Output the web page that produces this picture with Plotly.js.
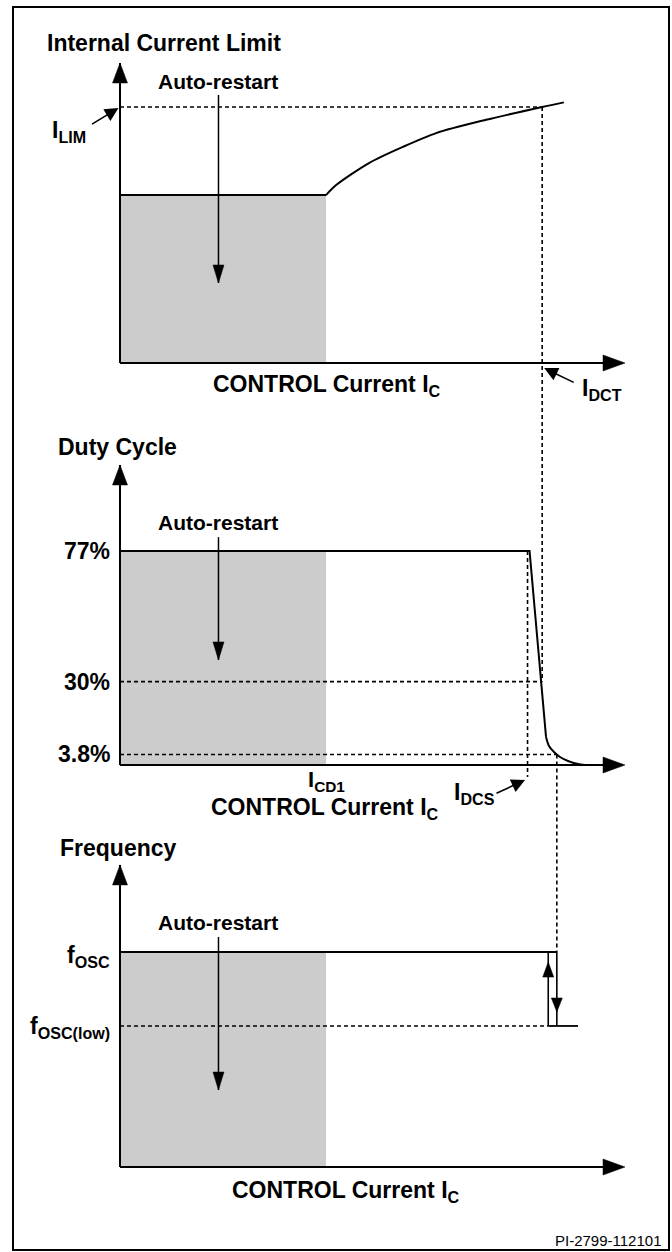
<!DOCTYPE html>
<html>
<head>
<meta charset="utf-8">
<script src="https://cdn.plot.ly/plotly-3.0.1.min.js"></script>
<style>
  html, body { margin: 0; padding: 0; background: #ffffff; }
  #chart { width: 672px; height: 1252px; }
</style>
</head>
<body>
<div id="chart"></div>
<script>
// ===================== DATA (schematic values) =====================
// Shared CONTROL-current axis (arbitrary units, 0 = origin, 100 = arrow tip)
const xAxisEnd = 100;
const I_CD1 = 40.8;          // end of auto-restart region
const I_DCS = 80.7;          // duty cycle starts to fall
const I_DCT = 83.6;          // current limit reaches I_LIM
const X_DUTY_MIN = 86.5;     // duty cycle reaches 3.8 %
const X_FREQ_UP = 84.8;      // frequency returns to fOSC
const X_FREQ_LOW_END = 90.7;

// Panel 1 : internal current limit (normalised to I_LIM)
const I_LIM = 1.0;
const ilimPlateau = 0.656;
const ilimRiseX = [40.8, 42.8, 49.3, 56.0, 62.6, 72.5, 83.6, 87.9];
const ilimRiseY = [0.656, 0.695, 0.781, 0.844, 0.898, 0.950, 1.0, 1.018];
const ilimAxisTop = 1.172;

// Panel 2 : duty cycle (%)
const dutyLevels = [77, 30, 3.8];
const dutyLabels = ['77%', '30%', '3.8%'];
const dutyFlatX = [0, 81.1, 84.36];
const dutyFlatY = [77, 77, 10.1];
const dutyTailX = [84.36, 84.95, 85.94, 87.13, 88.71, 90.69, 92.08];
const dutyTailY = [10.1, 6.84, 4.68, 2.88, 1.44, 0.36, 0];
const dutyAxisTop = 107.95;

// Panel 3 : frequency (normalised to fOSC)
const F_OSC = 1.0;
const F_OSC_LOW = 0.656;
const freqAxisTop = 1.405;

// Text
const yTitles = ['Internal Current Limit', 'Duty Cycle', 'Frequency'];
const xTitle = 'CONTROL Current I<sub>C</sub>';
const autoText = 'Auto-restart';
const docId = 'PI-2799-112101';

// ===================== LAYOUT GEOMETRY =====================
const W = 672, H = 1252;
const X0PX = 120, XPPU = 5.05;            // pixel of x=0, pixels per x unit
const panels = [
  {band: [0, 420],    y0px: 363,  ppu: 256},
  {band: [420, 828],  y0px: 765,  ppu: 214 / 77},
  {band: [828, 1252], y0px: 1167, ppu: 215}
];
const xr = [-X0PX / XPPU, (W - X0PX) / XPPU];
const paperY = (p, v) => 1 - (panels[p].y0px - v * panels[p].ppu) / H;

const FONT = 'Liberation Sans, Arial, Helvetica, sans-serif';
const GRAY = '#cccccc';
const DASH = '4px,3px';
const DASHW = 1.6;

const axN = ['', '2', '3'];
const traces = [];
const shapes = [];
const annotations = [];

function line(p, x, y, opts) {
  traces.push(Object.assign({
    type: 'scatter', mode: 'lines', x: x, y: y,
    xaxis: 'x' + axN[p], yaxis: 'y' + axN[p], hoverinfo: 'skip',
    line: {color: '#000', width: 2}
  }, opts || {}));
}
function head(p, x, y, path) {
  shapes.push({type: 'path', xref: 'x' + axN[p], yref: 'y' + axN[p],
    xsizemode: 'pixel', ysizemode: 'pixel', xanchor: x, yanchor: y,
    path: path, fillcolor: '#000', line: {color: '#000', width: 0.5}, layer: 'above'});
}
function text(p, x, y, t, size, xanchor, bold, extra) {
  annotations.push(Object.assign({
    xref: 'x' + axN[p], yref: 'y' + axN[p], x: x, y: y,
    text: bold === false ? t : '<b>' + t + '</b>', showarrow: false,
    xanchor: xanchor || 'center', yanchor: 'middle', borderpad: 0, borderwidth: 0,
    font: {family: FONT, size: size, color: '#000'}
  }, extra || {}));
}
function pointer(p, x, y, ax, ay) {
  annotations.push({xref: 'x' + axN[p], yref: 'y' + axN[p], x: x, y: y, ax: ax, ay: ay,
    text: '', showarrow: true, arrowhead: 2, arrowsize: 1.7, arrowwidth: 1.6, arrowcolor: '#000',
    standoff: 0, startstandoff: 0});
}
const UP = (hw, len) => `M0,0 L${-hw},${-len} L${hw},${-len} Z`;
const DOWN = (hw, len) => `M0,0 L${-hw},${len} L${hw},${len} Z`;
const RIGHT = (hw, len) => `M0,0 L${-len},${hw} L${-len},${-hw} Z`;

// ----- common axes, gray auto-restart regions, auto-restart arrows -----
const axisTops = [ilimAxisTop, dutyAxisTop, freqAxisTop];
const grayTops = [ilimPlateau, dutyLevels[0], F_OSC];
const autoTextY = [1.0977, 87.4, 1.135];
const autoStartY = [1.047, 82.0, 1.070];
const autoTipY = [0.3125, 37.8, 0.358];
const autoX = 19.5;
const titleY = [1.25, 114.4, 1.4837];
const titleX = [-14.46, -12.28, -11.88];
const xTitleX = [41.0, 40.6, 44.75];
const xTitleY = [-0.086, -15.8, -0.112];

for (let p = 0; p < 3; p++) {
  line(p, [0, I_CD1], [grayTops[p], grayTops[p]],
       {fill: 'tozeroy', fillcolor: GRAY, line: {width: 0, color: GRAY}});
}

// Panel 1 lines
line(0, [0, I_DCT], [I_LIM, I_LIM], {line: {color: '#000', width: DASHW, dash: DASH}});
line(0, [0, I_CD1], [ilimPlateau, ilimPlateau]);
line(0, ilimRiseX, ilimRiseY, {line: {color: '#000', width: 2, shape: 'spline', smoothing: 0.8}});

// Panel 2 lines
line(1, [0, I_DCT], [dutyLevels[1], dutyLevels[1]], {line: {color: '#000', width: DASHW, dash: DASH}});
line(1, [0, X_DUTY_MIN], [dutyLevels[2], dutyLevels[2]], {line: {color: '#000', width: DASHW, dash: DASH}});
line(1, [I_DCS, I_DCS], [dutyLevels[0], -4.3], {line: {color: '#000', width: DASHW, dash: DASH}});
line(1, dutyFlatX, dutyFlatY);
line(1, dutyTailX, dutyTailY, {line: {color: '#000', width: 2, shape: 'spline', smoothing: 0.8}});

// Panel 3 lines
line(2, [0, X_FREQ_UP], [F_OSC_LOW, F_OSC_LOW], {line: {color: '#000', width: DASHW, dash: DASH}});
line(2, [0, X_DUTY_MIN], [F_OSC, F_OSC]);
line(2, [X_DUTY_MIN, X_DUTY_MIN], [F_OSC, F_OSC_LOW], {line: {color: '#000', width: 1.6}});
line(2, [X_FREQ_UP, X_FREQ_UP], [F_OSC_LOW, F_OSC], {line: {color: '#000', width: 1.6}});
line(2, [X_FREQ_UP, X_FREQ_LOW_END], [F_OSC_LOW, F_OSC_LOW], {line: {color: '#000', width: 1.8}});
head(2, X_FREQ_UP, 0.953, UP(5.5, 15));
head(2, X_DUTY_MIN, 0.721, DOWN(5.5, 14));

for (let p = 0; p < 3; p++) {
  // axes with arrowheads
  line(p, [0, xAxisEnd - 0.5], [0, 0], {line: {color: '#000', width: 2}});
  line(p, [0, 0], [0, axisTops[p]], {line: {color: '#000', width: 2}});
  head(p, xAxisEnd, 0, RIGHT(8, 22));
  head(p, 0, axisTops[p], UP(7.5, 20));
  // auto-restart arrows
  line(p, [autoX, autoX], [autoStartY[p], autoTipY[p]], {line: {color: '#000', width: 1.5}});
  head(p, autoX, autoTipY[p], DOWN(5.5, 18));
  text(p, autoX, autoTextY[p], autoText, 21);
  text(p, titleX[p], titleY[p], yTitles[p], 23, 'left');
  text(p, xTitleX[p], xTitleY[p], xTitle, 23);
}

// cross-panel dashed connectors
shapes.push({type: 'line', xref: 'x', yref: 'paper', x0: I_DCT, x1: I_DCT,
  y0: paperY(0, I_LIM), y1: paperY(1, dutyLevels[1]), line: {color: '#000', width: DASHW, dash: DASH}});
shapes.push({type: 'line', xref: 'x', yref: 'paper', x0: X_DUTY_MIN, x1: X_DUTY_MIN,
  y0: paperY(1, dutyLevels[2]), y1: paperY(2, F_OSC), line: {color: '#000', width: DASHW, dash: DASH}});

// labels
text(0, -6.73, 0.906, 'I<sub>LIM</sub>', 23, 'right');
pointer(0, -0.3, 0.996, -28, 17);
text(0, 91.5, -0.105, 'I<sub>DCT</sub>', 23, 'left');
pointer(0, 84.0, -0.02, 31, 15);

dutyLevels.forEach((v, i) => text(1, -1.98, v, dutyLabels[i], 23, 'right'));
text(1, I_CD1, -5.6, 'I<sub>CD1</sub>', 22);
text(1, 74.3, -10.4, 'I<sub>DCS</sub>', 23, 'right');
pointer(1, 80.2, -5.4, -30, 14);

text(2, -1.98, 0.981, 'f<sub>OSC</sub>', 23, 'right');
text(2, -1.98, 0.647, 'f<sub>OSC(low)</sub>', 23, 'right');

annotations.push({xref: 'paper', yref: 'paper', x: 661 / W, y: 1 - 1240 / H, text: docId,
  showarrow: false, xanchor: 'right', yanchor: 'middle', borderpad: 0, borderwidth: 0,
  font: {family: FONT, size: 15, color: '#000'}});

// outer frame
shapes.push({type: 'rect', xref: 'paper', yref: 'paper',
  x0: 13 / W, x1: 669 / W, y0: 1 - 1250 / H, y1: 1 - 7 / H,
  line: {color: '#000', width: 2}, fillcolor: 'rgba(0,0,0,0)'});

const layout = {
  width: W, height: H, margin: {l: 0, r: 0, t: 0, b: 0},
  paper_bgcolor: '#ffffff', plot_bgcolor: 'rgba(0,0,0,0)', showlegend: false,
  shapes: shapes, annotations: annotations
};
for (let p = 0; p < 3; p++) {
  const b = panels[p].band, y0 = panels[p].y0px, ppu = panels[p].ppu;
  layout['xaxis' + axN[p]] = {domain: [0, 1], range: xr, visible: false, fixedrange: true,
    anchor: 'y' + axN[p]};
  layout['yaxis' + axN[p]] = {domain: [1 - b[1] / H, 1 - b[0] / H],
    range: [-(b[1] - y0) / ppu, (y0 - b[0]) / ppu], visible: false, fixedrange: true,
    anchor: 'x' + axN[p]};
}

Plotly.newPlot('chart', traces, layout, {staticPlot: true, displayModeBar: false});
</script>
</body>
</html>
